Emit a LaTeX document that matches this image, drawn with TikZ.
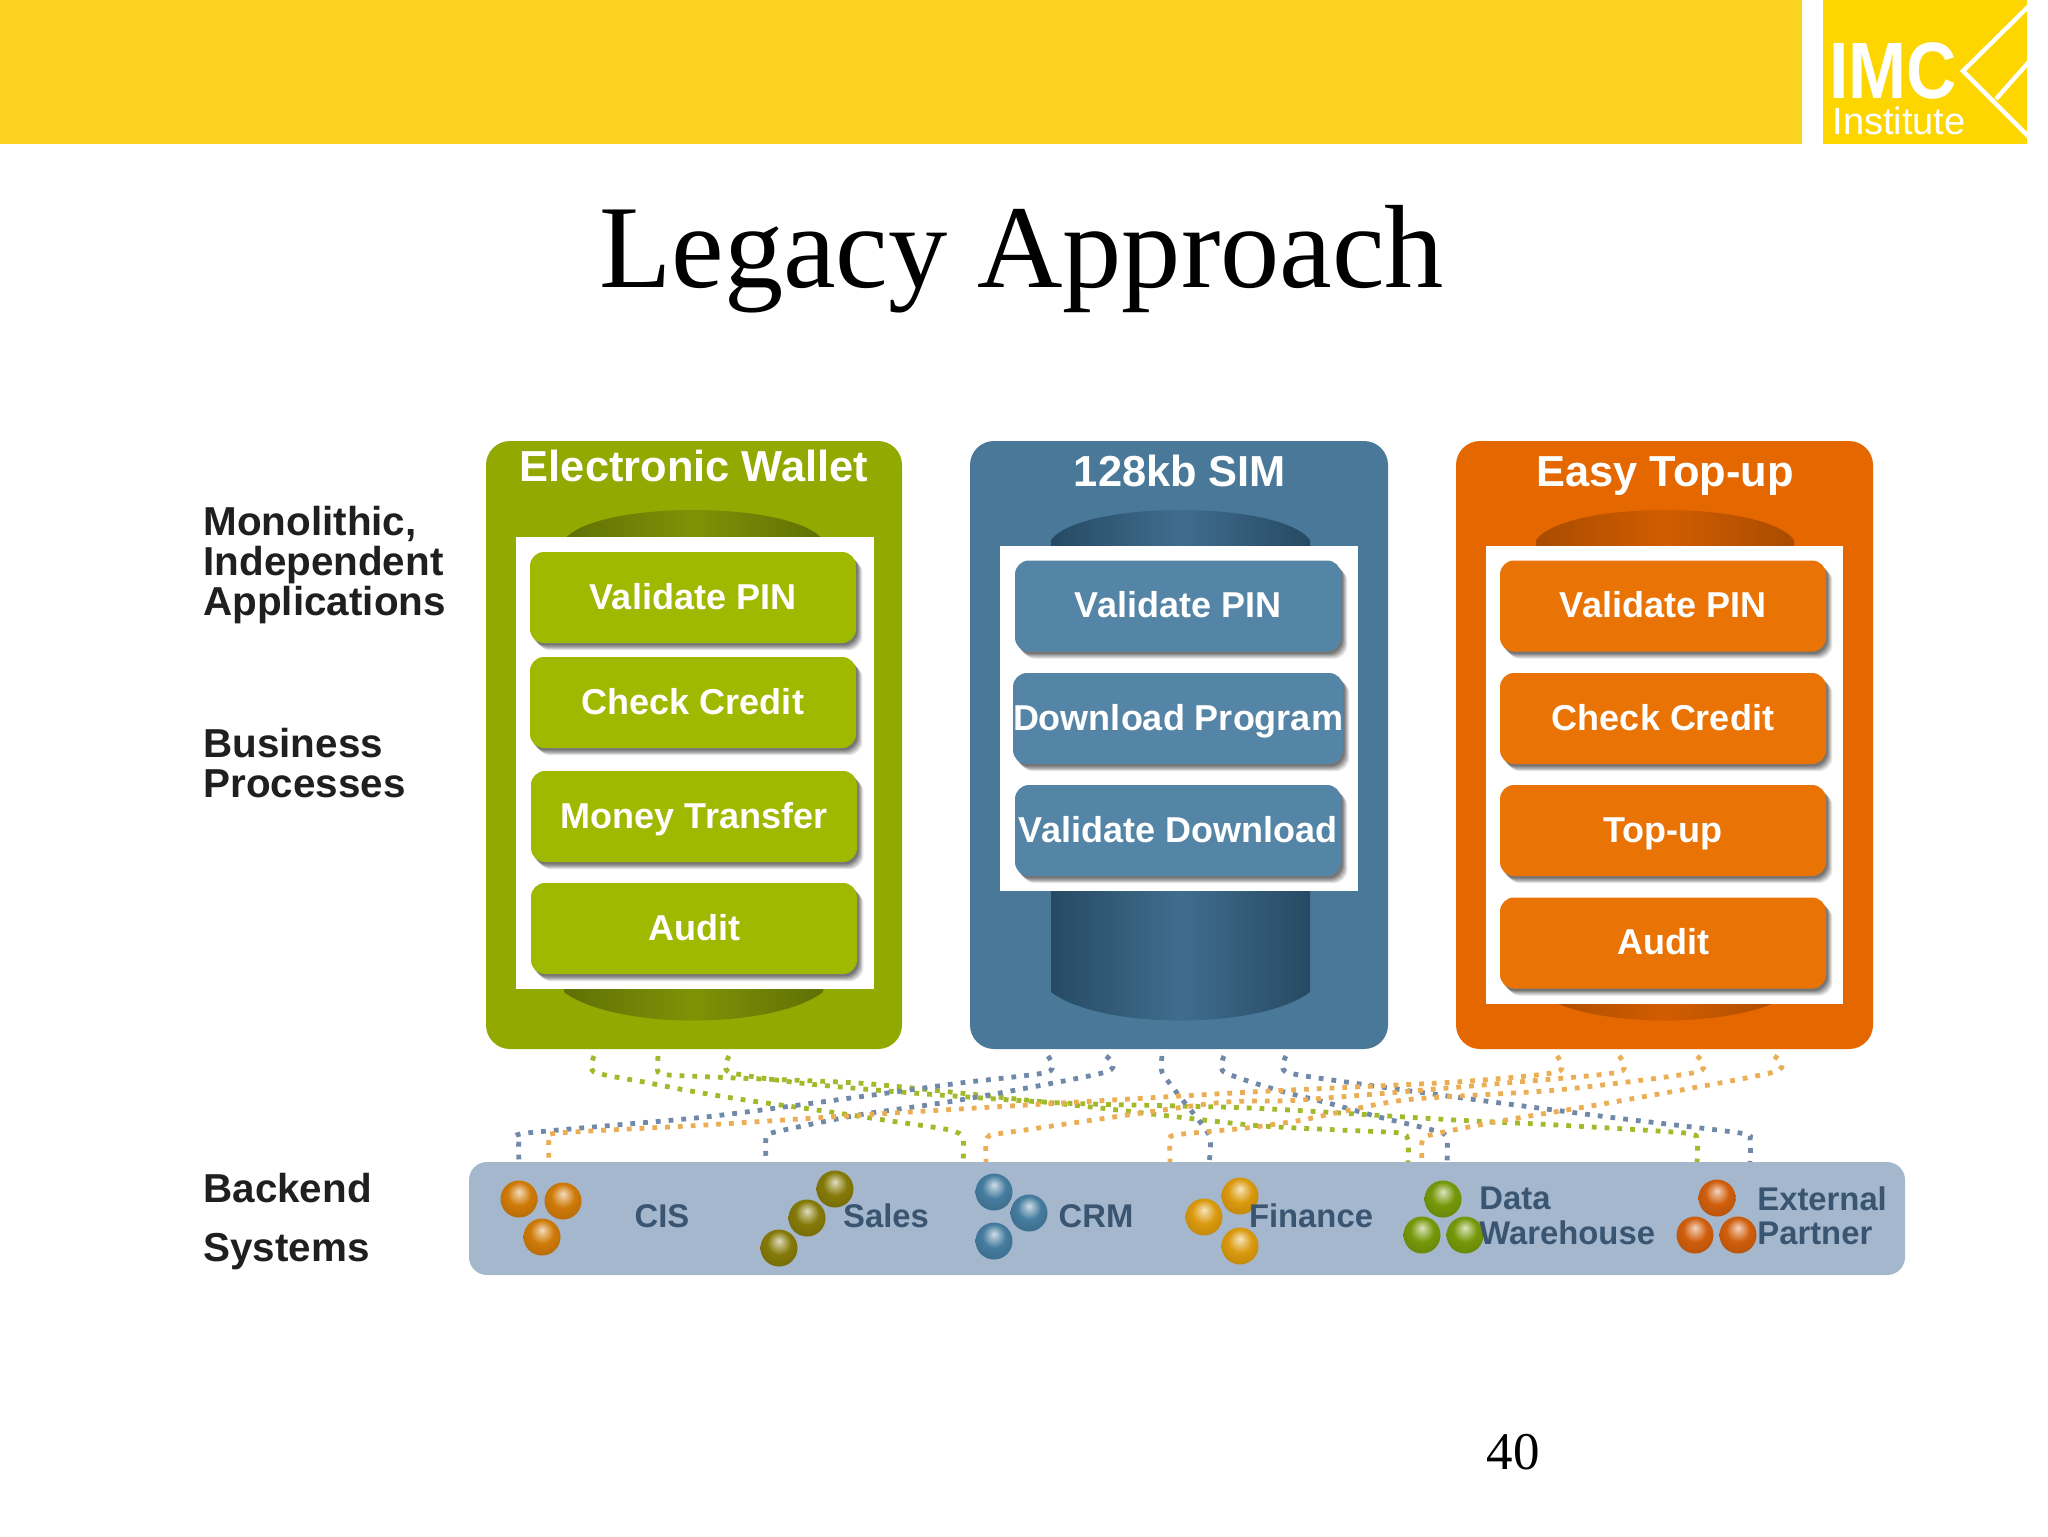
\documentclass[tikz,border=0pt]{standalone}
\usepackage{fontspec}
\setmainfont{Liberation Sans}
\newfontfamily\serifx{Liberation Serif}
\usetikzlibrary{shadows}
\definecolor{barY}{HTML}{FDD322}
\definecolor{logoY}{HTML}{FDD600}
\definecolor{gBox}{HTML}{91A900}
\definecolor{gBtn}{HTML}{9FB800}
\definecolor{gDark}{HTML}{5F7005}
\definecolor{gMid}{HTML}{7F9206}
\definecolor{bBox}{HTML}{4A7899}
\definecolor{bBtn}{HTML}{5484A6}
\definecolor{bDark}{HTML}{264A63}
\definecolor{bMid}{HTML}{406D8E}
\definecolor{oBox}{HTML}{E46700}
\definecolor{oBtn}{HTML}{E97304}
\definecolor{oDark}{HTML}{A84C00}
\definecolor{oMid}{HTML}{D25C00}
\definecolor{panelC}{HTML}{A4B7CD}
\definecolor{panelT}{HTML}{3A5572}
\definecolor{dG}{HTML}{A3B92C}
\definecolor{dB}{HTML}{7189A8}
\definecolor{dO}{HTML}{EBAE55}
\definecolor{cCis}{HTML}{CF7A08}
\definecolor{cSal}{HTML}{857A08}
\definecolor{cCrm}{HTML}{457C9F}
\definecolor{cFin}{HTML}{DB9A0E}
\definecolor{cDat}{HTML}{76980A}
\definecolor{cExt}{HTML}{D05E0C}
\newcommand{\mkball}[2]{\pgfdeclareradialshading{#1}{\pgfpoint{0bp}{10bp}}{%
  color(0bp)=(#2!25!white); color(6bp)=(#2!55!white); color(16bp)=(#2); color(34bp)=(#2!85!black); color(50bp)=(#2!55!black)}}
\mkball{ballCis}{cCis}
\mkball{ballSal}{cSal}
\mkball{ballCrm}{cCrm}
\mkball{ballFin}{cFin}
\mkball{ballDat}{cDat}
\mkball{ballExt}{cExt}
\tikzset{
  app/.style={fill=#1,rounded corners=12pt,draw=none},
  whitepane/.style={fill=white,draw=none},
  btn/.style={fill=#1,rounded corners=7pt,inner sep=0pt,minimum width=163pt,minimum height=45.5pt,
    text height=13pt,text depth=1.2pt,
    text=white,font=\bfseries\fontsize{18}{20}\selectfont,
    drop shadow={shadow xshift=3.2pt,shadow yshift=-3.6pt,opacity=.10,fill=black},
    drop shadow={shadow xshift=2.6pt,shadow yshift=-3pt,opacity=.12,fill=black},
    drop shadow={shadow xshift=2pt,shadow yshift=-2.4pt,opacity=.14,fill=black},
    drop shadow={shadow xshift=1.4pt,shadow yshift=-1.8pt,opacity=.16,fill=black},
    drop shadow={shadow xshift=.8pt,shadow yshift=-1.2pt,opacity=.18,fill=black}},
  apptitle/.style={text=white,inner sep=0pt,text height=15.6pt,text depth=0pt,font=\bfseries\fontsize{21.7}{24}\selectfont},
  sidelabel/.style={anchor=west,align=left,inner sep=0pt,text=black!88,font=\bfseries\fontsize{20.2}{20}\selectfont},
  ball/.style={circle,inner sep=0pt,minimum size=18.5pt,shading=#1},
  backlabel/.style={text=panelT,inner sep=0pt,font=\bfseries\fontsize{16.4}{17.2}\selectfont},
  dots/.style={#1,line width=2.4pt,dash pattern=on 2.4pt off 4pt},
  cyl/.style n args={2}{left color=#1,right color=#1,middle color=#2,draw=none},
}
\newcommand{\cylshape}[4]{\shade[cyl={#3}{#4}] (#1,540) .. controls (#1+30,500) and (#2-30,500) .. (#2,540) -- (#2,992) .. controls (#2-50,1030) and (#1+50,1030) .. (#1,992) -- cycle;}
\begin{document}
\begin{tikzpicture}[x=0.5pt,y=-0.5pt]
\useasboundingbox (0,0) rectangle (2048,1536);
\fill[white] (0,0) rectangle (2048,1536);
% header
\fill[barY] (0,0) rectangle (1802,143.5);
\fill[logoY] (1823,0) rectangle (2027,143.5);
\begin{scope}
\clip (1823,0) rectangle (2027,143.5);
\draw[white,line width=2.2pt] (2035,0) -- (1963,71) -- (2035,143);
\draw[white,line width=2.2pt] (1996,99) -- (2035,55);
\end{scope}
\node[text=white,inner sep=0pt,xscale=.87,font=\bfseries\fontsize{40}{40}\selectfont] (imc) at (1893,71) {IMC};
\node[text=white,inner sep=0pt,font=\fontsize{19}{19}\selectfont] (inst) at (1899,121) {Institute};
\node[anchor=base,inner sep=0pt,font=\serifx\fontsize{59.2}{59}\selectfont] (title) at (1021.5,287) {Legacy Approach};
% side labels
\node[sidelabel] (l1) at (203,565) {Monolithic,\\Independent\\Applications};
\node[sidelabel] (l2) at (203,763) {Business\\Processes};
\node[sidelabel,font=\bfseries\fontsize{20.2}{29.5}\selectfont] (l3) at (203,1222) {Backend\\Systems};
% application boxes
\fill[app=gBox] (486,441) rectangle (902,1049);
\fill[app=bBox] (970,441) rectangle (1388,1049);
\fill[app=oBox] (1456,441) rectangle (1873,1049);
\cylshape{564}{823}{gDark}{gMid}
\cylshape{1051}{1310}{bDark}{bMid}
\cylshape{1536}{1794}{oDark}{oMid}
\fill[whitepane] (516,537) rectangle (874,989);
\fill[whitepane] (1000,546) rectangle (1358,891);
\fill[whitepane] (1486,546) rectangle (1843,1004);
\node[apptitle] (t1) at (694,466) {Electronic Wallet};
\node[apptitle] (t2) at (1180,471) {128kb SIM};
\node[apptitle] (t3) at (1665,471) {Easy Top-up};
% buttons
\node[btn=gBtn] (g1) at (693,597.5) {Validate PIN};
\node[btn=gBtn] (g2) at (693,702.5) {Check Credit};
\node[btn=gBtn] (g3) at (694,816.5) {Money Transfer};
\node[btn=gBtn] (g4) at (694,928.5) {Audit};
\node[btn=bBtn] (b1) at (1178,606) {Validate PIN};
\node[btn=bBtn] (b2) at (1178,718.5) {Download Program};
\node[btn=bBtn] (b3) at (1178,830.5) {Validate Download};
\node[btn=oBtn] (o1) at (1663,606) {Validate PIN};
\node[btn=oBtn] (o2) at (1663,718.5) {Check Credit};
\node[btn=oBtn] (o3) at (1663,830.5) {Top-up};
\node[btn=oBtn] (o4) at (1663,943) {Audit};
% connector ends
\foreach \n/\x in {gt1/594,gt2/658,gt3/729,bt1/1048,bt2/1106,bt3/1162,bt4/1224,bt5/1286,ot1/1557,ot2/1619,ot3/1697,ot4/1774}
  \coordinate (\n) at (\x,1056);
\foreach \n/\x in {gb1/963,gb2/1408,gb3/1697,bb1/519,bb2/766,bb3/1209,bb4/1447,bb5/1750,ob1/549,ob2/986,ob3/1170,ob4/1422}
  \coordinate (\n) at (\x,1162);
% dotted connectors
\draw[dots=dG] plot[smooth,tension=.4] coordinates {(gt1) (594,1072) (644,1082) (685,1090) (726,1097) (766,1103) (817,1110) (884,1120) (950,1130) (963,1138) (gb1)};
\draw[dots=dG] plot[smooth,tension=.4] coordinates {(gt2) (658,1072) (669,1075) (736,1078) (858,1083) (960,1093) (1100,1108) (1250,1125) (1340,1130) (1400,1133) (1408,1140) (gb2)};
\draw[dots=dG] plot[smooth,tension=.4] coordinates {(gt3) (729,1072) (800,1083) (900,1092) (1062,1103) (1251,1108) (1455,1120) (1557,1125) (1685,1133) (1697,1140) (gb3)};
\draw[dots=dB] plot[smooth,tension=.4] coordinates {(bt1) (1048,1072) (960,1083) (858,1097) (705,1117) (527,1133) (519,1140) (bb1)};
\draw[dots=dB] plot[smooth,tension=.4] coordinates {(bt2) (1106,1072) (960,1100) (858,1115) (775,1132) (766,1138) (bb2)};
\draw[dots=dB] plot[smooth,tension=.4] coordinates {(bt3) (1162,1072) (1177,1093) (1209,1135) (bb3)};
\draw[dots=dB] plot[smooth,tension=.4] coordinates {(bt4) (1224,1072) (1277,1090) (1328,1103) (1379,1117) (1440,1132) (1447,1140) (bb4)};
\draw[dots=dB] plot[smooth,tension=.4] coordinates {(bt5) (1286,1072) (1353,1083) (1455,1097) (1608,1117) (1740,1133) (1750,1140) (bb5)};
\draw[dots=dO] plot[smooth,tension=.4] coordinates {(ot1) (1557,1072) (1455,1082) (1251,1092) (909,1112) (705,1125) (558,1133) (549,1140) (ob1)};
\draw[dots=dO] plot[smooth,tension=.4] coordinates {(ot2) (1619,1072) (1506,1083) (1300,1100) (1215,1103) (1011,1132) (990,1135) (986,1142) (ob2)};
\draw[dots=dO] plot[smooth,tension=.4] coordinates {(ot3) (1697,1072) (1557,1090) (1404,1100) (1302,1120) (1246,1128) (1175,1135) (1170,1142) (ob3)};
\draw[dots=dO] plot[smooth,tension=.4] coordinates {(ot4) (1774,1072) (1608,1103) (1506,1120) (1430,1135) (1422,1142) (ob4)};
% backend panel
\fill[panelC,rounded corners=9pt] (469,1162) rectangle (1905,1275);
\node[ball=ballCis] (s1) at (519,1199) {};
\node[ball=ballCis] (s2) at (563,1201) {};
\node[ball=ballCis] (s3) at (542,1237) {};
\node[ball=ballSal] (s4) at (835,1189) {};
\node[ball=ballSal] (s5) at (807,1218) {};
\node[ball=ballSal] (s6) at (779,1248) {};
\node[ball=ballCrm] (s7) at (994,1192) {};
\node[ball=ballCrm] (s8) at (1029,1213) {};
\node[ball=ballCrm] (s9) at (994,1241) {};
\node[ball=ballFin] (s10) at (1240,1196) {};
\node[ball=ballFin] (s11) at (1204,1217) {};
\node[ball=ballFin] (s12) at (1240,1246) {};
\node[ball=ballDat] (s13) at (1443,1199) {};
\node[ball=ballDat] (s14) at (1422,1235) {};
\node[ball=ballDat] (s15) at (1465,1235) {};
\node[ball=ballExt] (s16) at (1717,1198) {};
\node[ball=ballExt] (s17) at (1695,1235) {};
\node[ball=ballExt] (s18) at (1738,1235) {};
\node[backlabel] (c1) at (662,1216) {CIS};
\node[backlabel] (c2) at (886,1216) {Sales};
\node[backlabel] (c3) at (1096,1216) {CRM};
\node[backlabel] (c4) at (1311,1216) {Finance};
\node[backlabel,anchor=west,align=left] (c5) at (1479,1216) {Data\\Warehouse};
\node[backlabel,anchor=west,align=left] (c6) at (1757,1216) {External\\Partner};
\node[inner sep=0pt,font=\serifx\fontsize{26.5}{26}\selectfont] (pg) at (1513,1452) {40};
\end{tikzpicture}
\end{document}
